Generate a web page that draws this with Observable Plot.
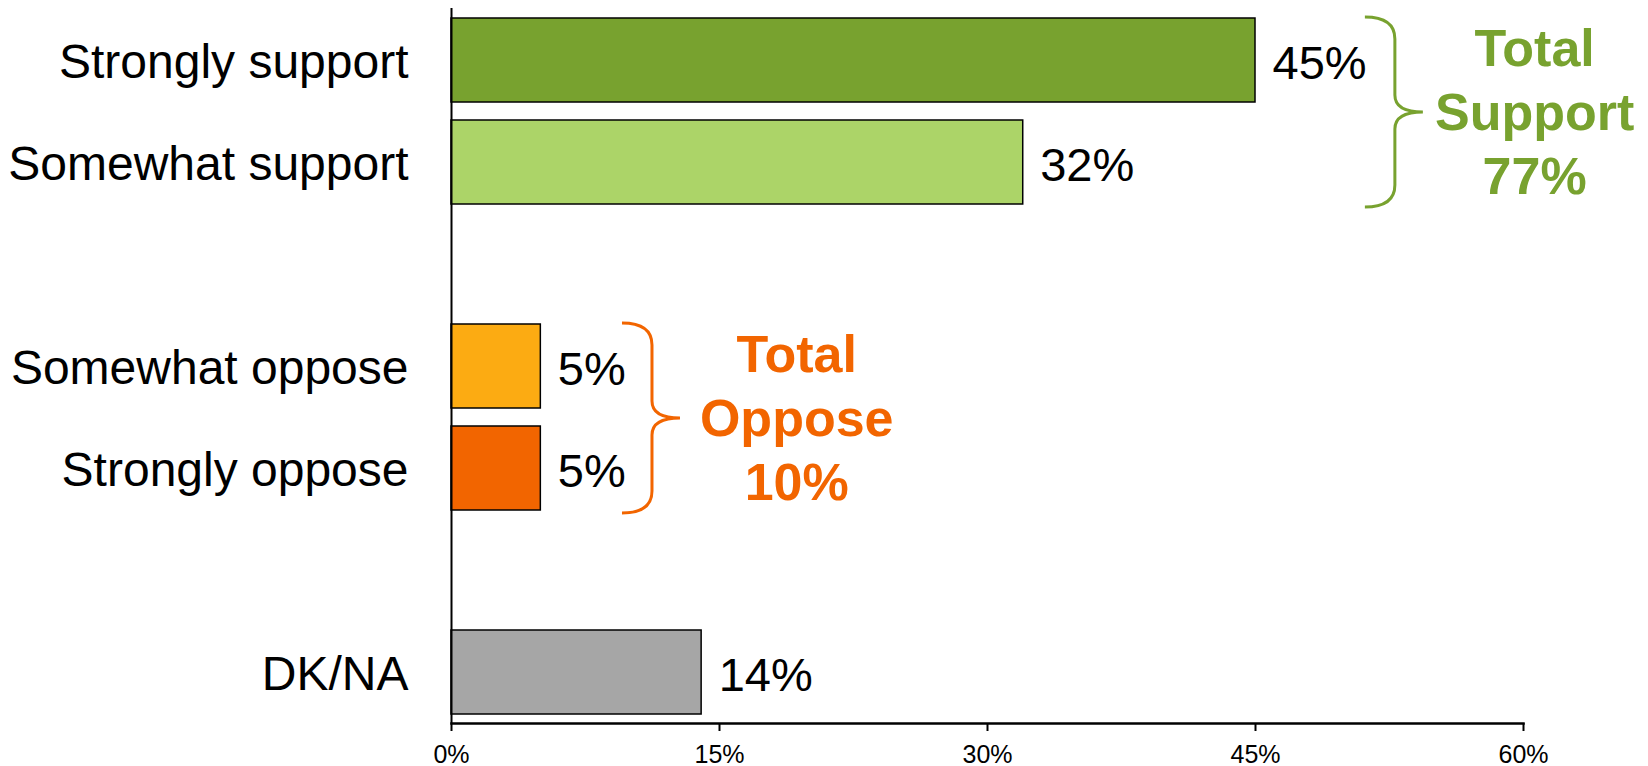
<!DOCTYPE html>
<html>
<head>
<meta charset="utf-8">
<script src="https://cdn.jsdelivr.net/npm/d3@7"></script>
<script src="https://cdn.jsdelivr.net/npm/@observablehq/plot@0.6"></script>
<style>
  html, body { margin: 0; padding: 0; background: #fff; }
  #chart svg { display: block; }
</style>
</head>
<body>
<div id="chart"></div>
<script>
// ---- data ----
const categories = ["Strongly support", "Somewhat support", "Somewhat oppose", "Strongly oppose", "DK/NA"];
const values = [45, 32, 5, 5, 14];
const rowOrder = ["Strongly support", "Somewhat support", "", "Somewhat oppose", "Strongly oppose", " ", "DK/NA"];
const xTicks = [0, 15, 30, 45, 60];
const palette = ["#78a22f", "#acd468", "#fcab12", "#f26500", "#a6a6a6"];

const totalTitles = [["Total", "Support"], ["Total", "Oppose"]];
const totalValues = [77, 10];
const totalFrom = ["Strongly support", "Somewhat oppose"];
const totalTo = ["Somewhat support", "Strongly oppose"];
const totalColors = ["#78a22f", "#f26500"];
const braceX = [51.15, 9.57];   // brace start, in x units (%)
const labelX = [60.65, 19.35];  // centre of total label, in x units (%)

const rows = categories.map((c, i) => ({label: c, value: values[i]}));
const totals = totalTitles.map((t, i) => ({title: t, value: totalValues[i], from: totalFrom[i], to: totalTo[i], color: totalColors[i], bx: braceX[i], lx: labelX[i]}));

const FONT = "Liberation Sans, Arial, Helvetica, sans-serif";
const svgNS = "http://www.w3.org/2000/svg";

function annotations(index, scales) {
  const g = document.createElementNS(svgNS, "g");
  const x = scales.x, y = scales.y;
  const step = y(rowOrder[1]) - y(rowOrder[0]);
  let bw = y.bandwidth;
  if (typeof bw === "function") bw = bw();
  if (!(bw > 0)) bw = step * (1 - 0.178);
  for (const t of totals) {
    const yTop = y(t.from) - 1;
    const yBot = y(t.to) + bw + 3;
    const ym = (yTop + yBot) / 2;
    const x0 = x(t.bx), xv = x0 + 30, xt = x0 + 58;
    const r = 22, rm = 17;
    const p = document.createElementNS(svgNS, "path");
    p.setAttribute("d",
      `M${x0},${yTop} Q${xv},${yTop} ${xv},${yTop + r} L${xv},${ym - rm} Q${xv},${ym} ${xt},${ym}` +
      ` Q${xv},${ym} ${xv},${ym + rm} L${xv},${yBot - r} Q${xv},${yBot} ${x0},${yBot}`);
    p.setAttribute("fill", "none");
    p.setAttribute("stroke", t.color);
    p.setAttribute("stroke-width", "3");
    g.appendChild(p);
    const lines = [...t.title, t.value + "%"];
    const cx = x(t.lx);
    const lh = 64;
    lines.forEach((s, i) => {
      const tx = document.createElementNS(svgNS, "text");
      tx.setAttribute("x", cx);
      tx.setAttribute("y", ym + (i - 1) * lh + 18);
      tx.setAttribute("text-anchor", "middle");
      tx.setAttribute("fill", t.color);
      tx.setAttribute("font-weight", "bold");
      tx.setAttribute("font-size", "52");
      tx.setAttribute("font-family", FONT);
      tx.textContent = s;
      g.appendChild(tx);
    });
  }
  return g;
}

const chart = Plot.plot({
  width: 1648,
  height: 766,
  marginLeft: 451,
  marginRight: 125,
  marginTop: 8,
  marginBottom: 43,
  style: {fontFamily: FONT, color: "black", background: "white", overflow: "visible"},
  x: {domain: [0, 60]},
  y: {domain: rowOrder, paddingInner: 0.178, paddingOuter: 0.085},
  color: {domain: categories, range: palette},
  marks: [
    Plot.barX(rows, {x: "value", y: "label", fill: "label", stroke: "black", strokeWidth: 1.5}),
    Plot.text(rows, {x: "value", y: "label", text: d => d.value + "%", textAnchor: "start", dx: 17, dy: 3, fontSize: 47, fill: "black"}),
    Plot.axisY({ticks: categories, tickSize: 0, tickPadding: 43, fontSize: 48, dy: 2, label: null}),
    Plot.axisX({ticks: xTicks, tickFormat: d => d + "%", tickSize: 8, tickPadding: 14, fontSize: 25, strokeWidth: 2, label: null}),
    Plot.ruleX([0], {stroke: "black", strokeWidth: 2}),
    Plot.frame({anchor: "bottom", stroke: "black", strokeWidth: 2.5}),
    annotations
  ]
});
document.getElementById("chart").appendChild(chart);
</script>
</body>
</html>
